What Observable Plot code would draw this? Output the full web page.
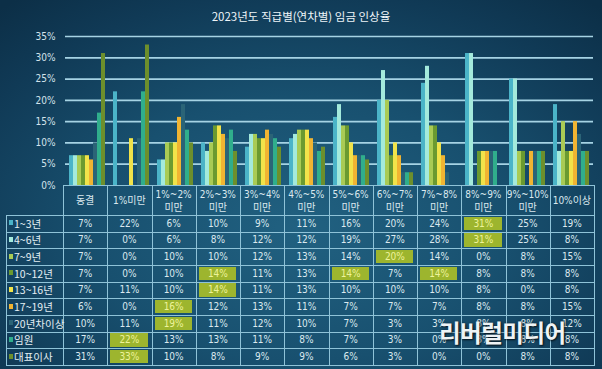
<!DOCTYPE html>
<html>
<head>
<meta charset="utf-8">
<script src="https://cdn.jsdelivr.net/npm/d3@7"></script>
<script src="https://cdn.jsdelivr.net/npm/@observablehq/plot@0.6"></script>
<style>
  html, body { margin: 0; padding: 0; }
  #wrap {
    position: relative; width: 602px; height: 369px; overflow: hidden;
    background: radial-gradient(ellipse 75% 80% at 50% 62%, #216181 0%, #18506f 45%, #103a56 80%, #0c2f47 100%);
    font-family: "Liberation Sans Narrow", "DejaVu Sans Condensed", "Noto Sans CJK KR", sans-serif;
  }
  #title {
    position: absolute; left: 0; top: 9px; width: 602px; text-align: center;
    color: #eef5f8; font-size: 11.5px; font-family: "Liberation Sans Narrow", "Noto Sans CJK KR", sans-serif;
    line-height: 14px;
  }
  #chart { position: absolute; left: 0; top: 0; }
  .ln { position: absolute; background: #8fc3d8; }
  .cell { position: absolute; display: flex; align-items: center; justify-content: center;
    color: #dbe9ef; font-size: 10px; line-height: 12px; text-align: center; }
  .hl { position: absolute; background: #9db52e; }
  .lab { position: absolute; color: #e3eef3; font-size: 10.5px; display: flex; align-items: center;
    font-family: "Liberation Sans Narrow", "Noto Sans CJK KR", sans-serif; }
  .sw { position: absolute; width: 4px; height: 5px; }
  #wm { position: absolute; left: 439px; top: 318px; font-size: 23.5px; font-weight: 700; line-height: 28px;
    color: #eef3f5; font-family: "Noto Sans CJK KR", sans-serif; letter-spacing: -0.5px;
    text-shadow: 1px 1px 2px rgba(0,0,0,0.7), 0 0 3px rgba(0,0,0,0.4); }
</style>
</head>
<body>
<div id="wrap">
  <div id="chart"></div>
  <div id="title">2023년도 직급별(연차별) 임금 인상율</div>
  <div id="table"></div>
  <div id="wm">리버럴미디어</div>
</div>
<script>
const categories = ["동결","1%미만","1%~2% 미만","2%~3% 미만","3%~4% 미만","4%~5% 미만","5%~6% 미만","6%~7% 미만","7%~8% 미만","8%~9% 미만","9%~10% 미만","10%이상"];
const seriesNames = ["1~3년","4~6년","7~9년","10~12년","13~16년","17~19년","20년차이상","임원","대표이사"];
const seriesColors = ["#4bb4c8","#a4eadc","#a9cb55","#6b9a30","#f1e34a","#f0b432","#2b6477","#30ae8c","#6d8f2c"];
const yr1to3    = [7,22,6,10,9,11,16,20,24,31,25,19];
const yr4to6    = [7,0,6,8,12,12,19,27,28,31,25,8];
const yr7to9    = [7,0,10,10,12,13,14,20,14,0,8,15];
const yr10to12  = [7,0,10,14,11,13,14,7,14,8,8,8];
const yr13to16  = [7,11,10,14,11,13,10,10,10,8,0,8];
const yr17to19  = [6,0,16,12,13,11,7,7,7,8,8,15];
const yr20plus  = [10,11,19,11,12,10,7,3,3,8,8,12];
const executives = [17,22,13,13,11,8,7,3,0,8,8,8];
const ceo       = [31,33,10,8,9,9,6,3,0,0,8,8];
const yTicks = [0,5,10,15,20,25,30,35];

const seriesValues = [yr1to3, yr4to6, yr7to9, yr10to12, yr13to16, yr17to19, yr20plus, executives, ceo];
const data = seriesNames.flatMap((s, i) => seriesValues[i].map((v, j) => ({series: s, cat: categories[j], value: v})));

const W = 602, ML = 63, MR = 8;
const chart = Plot.plot({
  width: W, height: 190,
  marginTop: 36, marginBottom: 5, marginLeft: ML, marginRight: MR,
  style: {background: "transparent", color: "#d3e3eb", fontSize: "10px",
          fontFamily: "'Liberation Sans Narrow','DejaVu Sans Condensed',sans-serif"},
  fx: {domain: categories, padding: 0, axis: null, label: null},
  x: {domain: seriesNames, paddingInner: 0, paddingOuter: 0.75, axis: null, label: null},
  y: {domain: [0, 35], axis: null, label: null},
  color: {domain: seriesNames, range: seriesColors},
  marks: [
    Plot.ruleY(yTicks.filter(d => d > 0), {stroke: "#a6d3e4", strokeWidth: 1.7}),
    Plot.barY(data, {fx: "cat", x: "series", y: "value", fill: "series"}),
    Plot.axisY(yTicks, {tickSize: 0, tickPadding: 10, tickFormat: d => d + "%", fill: "#d3e3eb", label: null})
  ]
});
document.getElementById("chart").appendChild(chart);

// table
const tbl = document.getElementById("table");
const colW = (W - ML - MR) / categories.length;
const headTop = 185, headH = 30, rowTop = 215, rowH = 150 / seriesNames.length, labLeft = 6;
function add(cls, css, html) {
  const d = document.createElement("div");
  d.className = cls;
  Object.assign(d.style, css);
  if (html !== undefined) d.innerHTML = html;
  tbl.appendChild(d);
  return d;
}
// highlights (row max)
seriesValues.forEach((vals, i) => {
  const mx = Math.max(...vals);
  vals.forEach((v, j) => {
    if (v === mx) add("hl", {left: (ML + j * colW + 3) + "px", top: (rowTop + i * rowH + 1.5) + "px",
      width: (colW - 7) + "px", height: (rowH - 3) + "px"});
  });
});
// lines
add("ln", {left: ML + "px", top: headTop + "px", width: (W - MR - ML) + "px", height: "1px"});
for (let i = 0; i <= seriesNames.length; i++) {
  add("ln", {left: labLeft + "px", top: (rowTop + i * rowH) + "px", width: (W - MR - labLeft) + "px", height: "1px"});
}
add("ln", {left: labLeft + "px", top: rowTop + "px", width: "1px", height: (150 + 1) + "px"});
for (let j = 0; j <= categories.length; j++) {
  add("ln", {left: (ML + j * colW) + "px", top: headTop + "px", width: "1px", height: (rowTop + 150 - headTop + 1) + "px"});
}
// header
categories.forEach((c, j) => {
  const parts = c.split(" ");
  add("cell", {left: (ML + j * colW) + "px", top: (headTop + 1) + "px", width: colW + "px", height: (headH - 1) + "px",
    color: "#dbe9ef", lineHeight: "13px"}, parts.join("<br>"));
});
// rows
seriesNames.forEach((s, i) => {
  const top = rowTop + i * rowH;
  add("sw", {left: "9px", top: (top + rowH / 2 - 3) + "px", background: seriesColors[i]});
  add("lab", {left: "14px", top: top + "px", height: rowH + "px"}, s);
  seriesValues[i].forEach((v, j) => {
    const isMax = v === Math.max(...seriesValues[i]);
    add("cell", {left: (ML + j * colW) + "px", top: (top + 1) + "px", width: colW + "px", height: (rowH - 1) + "px",
      color: isMax ? "#eef39a" : "#dbe9ef"}, Math.round(v) + "%");
  });
});
</script>
</body>
</html>
